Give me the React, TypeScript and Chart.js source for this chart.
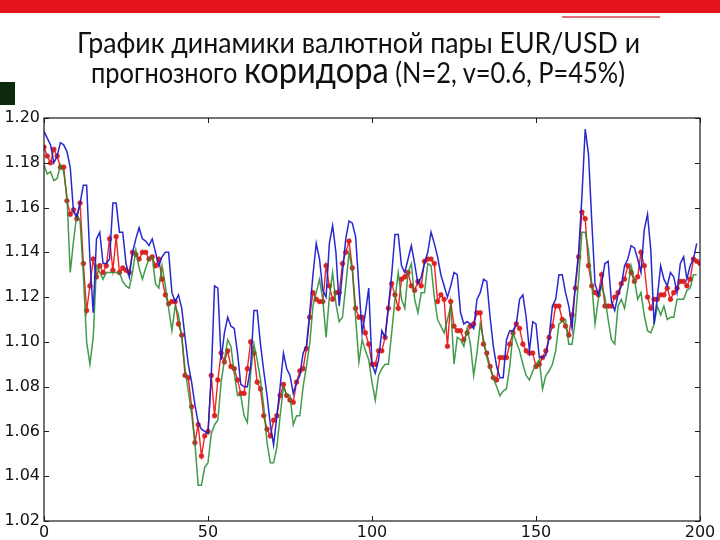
import React, { useEffect, useRef } from "react";
import { Chart, registerables } from "chart.js";

Chart.register(...registerables);

// Actual EUR/USD series (x = index 0..200)
const priceSeries = [
  1.187, 1.183, 1.180, 1.186, 1.183, 1.178, 1.178, 1.163, 1.157, 1.159,
  1.155, 1.162, 1.135, 1.114, 1.125, 1.137, 1.129, 1.134, 1.131, 1.134,
  1.146, 1.132, 1.147, 1.131, 1.133, 1.132, 1.131, 1.140, 1.139, 1.137,
  1.140, 1.140, 1.137, 1.138, 1.134, 1.137, 1.128, 1.121, 1.117, 1.118,
  1.118, 1.108, 1.103, 1.085, 1.084, 1.071, 1.055, 1.063, 1.049, 1.058,
  1.060, 1.085, 1.067, 1.083, 1.095, 1.091, 1.096, 1.089, 1.088, 1.083,
  1.077, 1.077, 1.088, 1.100, 1.095, 1.082, 1.079, 1.067, 1.061, 1.058,
  1.065, 1.067, 1.076, 1.081, 1.076, 1.074, 1.073, 1.082, 1.087, 1.088,
  1.097, 1.111, 1.122, 1.119, 1.118, 1.118, 1.134, 1.125, 1.119, 1.122,
  1.122, 1.135, 1.140, 1.145, 1.133, 1.115, 1.111, 1.111, 1.104, 1.099,
  1.090, 1.090, 1.096, 1.096, 1.102, 1.115, 1.126, 1.121, 1.115, 1.128,
  1.129, 1.131, 1.125, 1.123, 1.127, 1.125, 1.136, 1.137, 1.137, 1.135,
  1.118, 1.121, 1.119, 1.098, 1.118, 1.107, 1.105, 1.105, 1.101, 1.104,
  1.107, 1.108, 1.113, 1.113, 1.099, 1.095, 1.089, 1.084, 1.083, 1.093,
  1.093, 1.093, 1.099, 1.104, 1.108, 1.106, 1.099, 1.096, 1.095, 1.095,
  1.089, 1.090, 1.093, 1.096, 1.102, 1.107, 1.116, 1.116, 1.110, 1.107,
  1.103, 1.112, 1.124, 1.138, 1.158, 1.155, 1.134, 1.125, 1.122, 1.121,
  1.130, 1.116, 1.116, 1.116, 1.120, 1.122, 1.126, 1.128, 1.134, 1.131,
  1.127, 1.129, 1.140, 1.134, 1.120, 1.115, 1.119, 1.119, 1.121, 1.121,
  1.124, 1.119, 1.122, 1.124, 1.127, 1.127, 1.125, 1.128, 1.137, 1.136,
  1.135,
];

// Upper bound of the forecast corridor (x = index 0..199)
const upperBound = [
  1.194, 1.191, 1.188, 1.180, 1.183, 1.189, 1.188, 1.185, 1.178, 1.158,
  1.156, 1.162, 1.170, 1.170, 1.137, 1.113, 1.146, 1.149, 1.135, 1.135,
  1.137, 1.162, 1.162, 1.149, 1.149, 1.135, 1.129, 1.140, 1.146, 1.151,
  1.146, 1.145, 1.143, 1.146, 1.140, 1.134, 1.138, 1.140, 1.140, 1.122,
  1.118, 1.121, 1.115, 1.102, 1.090, 1.082, 1.072, 1.064, 1.061, 1.060,
  1.059, 1.085, 1.125, 1.124, 1.092, 1.104, 1.111, 1.107, 1.106, 1.095,
  1.081, 1.080, 1.080, 1.089, 1.114, 1.114, 1.099, 1.087, 1.076, 1.063,
  1.054, 1.067, 1.080, 1.095, 1.088, 1.085, 1.077, 1.082, 1.085, 1.095,
  1.098, 1.113, 1.130, 1.144, 1.137, 1.123, 1.120, 1.144, 1.152, 1.140,
  1.116, 1.131, 1.146, 1.154, 1.153, 1.147, 1.125, 1.104, 1.113, 1.124,
  1.090, 1.086, 1.092, 1.105, 1.102, 1.116, 1.130, 1.148, 1.148, 1.134,
  1.131, 1.137, 1.143, 1.135, 1.126, 1.129, 1.135, 1.140, 1.149, 1.144,
  1.138, 1.130, 1.125, 1.120, 1.125, 1.131, 1.130, 1.113, 1.108, 1.109,
  1.108, 1.106, 1.119, 1.122, 1.128, 1.127, 1.111, 1.098, 1.089, 1.084,
  1.084, 1.101, 1.105, 1.105, 1.108, 1.119, 1.121, 1.111, 1.096, 1.109,
  1.108, 1.093, 1.093, 1.094, 1.102, 1.116, 1.119, 1.130, 1.130, 1.122,
  1.116, 1.106, 1.126, 1.140, 1.165, 1.195, 1.184, 1.154, 1.126, 1.121,
  1.126, 1.135, 1.136, 1.118, 1.114, 1.121, 1.125, 1.134, 1.137, 1.143,
  1.142, 1.137, 1.131, 1.150, 1.157, 1.141, 1.108, 1.120, 1.134, 1.128,
  1.125, 1.131, 1.129, 1.122, 1.135, 1.138, 1.128, 1.134, 1.137, 1.144,
];

// Lower bound of the forecast corridor (x = index 0..199)
const lowerBound = [
  1.179, 1.175, 1.176, 1.172, 1.173, 1.179, 1.176, 1.165, 1.131, 1.145,
  1.157, 1.154, 1.130, 1.100, 1.090, 1.102, 1.134, 1.131, 1.128, 1.131,
  1.131, 1.131, 1.131, 1.131, 1.127, 1.125, 1.124, 1.131, 1.141, 1.133,
  1.128, 1.133, 1.137, 1.138, 1.126, 1.124, 1.134, 1.125, 1.115, 1.105,
  1.116, 1.112, 1.102, 1.088, 1.078, 1.068, 1.055, 1.036, 1.036, 1.044,
  1.046, 1.059, 1.063, 1.065, 1.082, 1.092, 1.101, 1.098, 1.086, 1.076,
  1.076, 1.067, 1.064, 1.086, 1.099, 1.092, 1.083, 1.071, 1.055, 1.046,
  1.046, 1.053, 1.067, 1.080, 1.076, 1.076, 1.063, 1.067, 1.067, 1.080,
  1.089, 1.099, 1.116, 1.122, 1.128, 1.119, 1.102, 1.120, 1.131, 1.117,
  1.109, 1.111, 1.125, 1.140, 1.132, 1.111, 1.091, 1.101, 1.096, 1.092,
  1.082, 1.074, 1.085, 1.088, 1.090, 1.090, 1.104, 1.119, 1.131, 1.119,
  1.115, 1.131, 1.135, 1.119, 1.113, 1.122, 1.122, 1.135, 1.134, 1.120,
  1.110, 1.107, 1.104, 1.110, 1.116, 1.090, 1.102, 1.101, 1.098, 1.106,
  1.099, 1.085, 1.095, 1.108, 1.101, 1.093, 1.088, 1.084, 1.080, 1.076,
  1.078, 1.079, 1.089, 1.104, 1.100, 1.096, 1.090, 1.085, 1.083, 1.087,
  1.090, 1.092, 1.079, 1.085, 1.087, 1.090, 1.096, 1.108, 1.109, 1.110,
  1.099, 1.099, 1.110, 1.128, 1.149, 1.149, 1.141, 1.126, 1.108, 1.119,
  1.125, 1.120, 1.110, 1.101, 1.099, 1.116, 1.119, 1.115, 1.124, 1.134,
  1.128, 1.119, 1.122, 1.112, 1.105, 1.104, 1.108, 1.116, 1.112, 1.116,
  1.110, 1.111, 1.111, 1.119, 1.119, 1.119, 1.123, 1.124, 1.130, 1.130,
];

const xTicks = [0, 50, 100, 150, 200];
const yTicks = [1.02, 1.04, 1.06, 1.08, 1.1, 1.12, 1.14, 1.16, 1.18, 1.2];

const titleLine1 = "График динамики валютной пары EUR/USD и";
const titleLine2a = "прогнозного ";
const titleLine2b = "коридора";
const titleLine2c = " (N=2, v=0.6, P=45%)";

const toPoints = (arr: number[]) => arr.map((v, i) => ({ x: i, y: v }));

const framePlugin = {
  id: "mplFrame",
  afterDraw(chart: any) {
    const { ctx, chartArea, scales } = chart;
    const { left, right, top, bottom } = chartArea;
    ctx.save();
    ctx.strokeStyle = "#1a1a1a";
    ctx.lineWidth = 1.2;
    ctx.strokeRect(left, top, right - left, bottom - top);
    ctx.lineWidth = 1;
    const len = 5;
    ctx.beginPath();
    xTicks.forEach((t) => {
      const px = Math.round(scales.x.getPixelForValue(t)) + 0.5;
      ctx.moveTo(px, bottom);
      ctx.lineTo(px, bottom - len);
      ctx.moveTo(px, top);
      ctx.lineTo(px, top + len);
    });
    yTicks.forEach((t) => {
      const py = Math.round(scales.y.getPixelForValue(t)) + 0.5;
      ctx.moveTo(left, py);
      ctx.lineTo(left + len, py);
      ctx.moveTo(right, py);
      ctx.lineTo(right - len, py);
    });
    ctx.stroke();
    ctx.restore();
  },
};

export default function App() {
  const canvasRef = useRef<HTMLCanvasElement | null>(null);

  useEffect(() => {
    if (!canvasRef.current) return;
    const chart = new Chart(canvasRef.current, {
      type: "line",
      data: {
        datasets: [
          {
            label: "upper",
            data: toPoints(upperBound),
            borderColor: "rgba(28,28,207,0.95)",
            borderWidth: 1.5,
            pointRadius: 0,
            tension: 0,
            order: 1,
          },
          {
            label: "lower",
            data: toPoints(lowerBound),
            borderColor: "rgba(33,137,42,0.85)",
            borderWidth: 1.5,
            pointRadius: 0,
            tension: 0,
            order: 2,
          },
          {
            label: "price",
            data: toPoints(priceSeries),
            borderColor: "#f02424",
            borderWidth: 1.4,
            pointRadius: 2.4,
            pointBackgroundColor: "#e02222",
            pointBorderColor: "#c81c1c",
            pointBorderWidth: 0.5,
            tension: 0,
            order: 3,
          },
        ],
      },
      options: {
        responsive: false,
        animation: false,
        events: [],
        layout: { padding: { top: 118, right: 20, bottom: 0, left: 0 } },
        plugins: {
          legend: { display: false },
          tooltip: { enabled: false },
          title: { display: false },
        },
        scales: {
          x: {
            type: "linear",
            min: 0,
            max: 200,
            afterBuildTicks: (s: any) => {
              s.ticks = xTicks.map((v) => ({ value: v }));
            },
            afterFit: (s: any) => {
              s.height = 19;
            },
            grid: { display: false, drawTicks: false },
            border: { display: false },
            ticks: {
              padding: 2,
              color: "#111",
              font: { family: "'DejaVu Sans', sans-serif", size: 16 },
              callback: (v: any) => String(v),
              maxRotation: 0,
            },
          },
          y: {
            type: "linear",
            min: 1.02,
            max: 1.2,
            afterBuildTicks: (s: any) => {
              s.ticks = yTicks.map((v) => ({ value: v }));
            },
            afterFit: (s: any) => {
              s.width = 44;
            },
            grid: { display: false, drawTicks: false },
            border: { display: false },
            ticks: {
              padding: 4,
              color: "#111",
              font: { family: "'DejaVu Sans', sans-serif", size: 16 },
              callback: (v: any) => Number(v).toFixed(2),
            },
          },
        },
      },
      plugins: [framePlugin],
    } as any);
    return () => chart.destroy();
  }, []);

  return (
    <div
      style={{
        position: "fixed",
        left: 0,
        top: 0,
        width: 720,
        height: 540,
        background: "#fff",
        overflow: "hidden",
      }}
    >
      <div style={{ position: "absolute", left: 0, top: 0, width: 720, height: 13, background: "#e3141b" }} />
      <div style={{ position: "absolute", left: 562, top: 16, width: 98, height: 2, background: "#e6707a" }} />
      <div style={{ position: "absolute", left: 0, top: 82, width: 15, height: 23, background: "#0d2a0d" }} />
      <canvas
        ref={canvasRef}
        width={720}
        height={540}
        style={{ position: "absolute", left: 0, top: 0, width: 720, height: 540 }}
      />
      <svg
        width={720}
        height={110}
        style={{ position: "absolute", left: 0, top: 0 }}
      >
        <text
          x={77}
          y={53}
          textLength={563}
          lengthAdjust="spacingAndGlyphs"
          fontFamily="Lato, 'Open Sans', sans-serif"
          fontSize={28}
          fill="#111"
        >
          {titleLine1}
        </text>
        <text
          x={91}
          y={83}
          textLength={534}
          lengthAdjust="spacingAndGlyphs"
          fontFamily="Lato, 'Open Sans', sans-serif"
          fontSize={28}
          fill="#111"
        >
          <tspan>{titleLine2a}</tspan>
          <tspan fontSize={36}>{titleLine2b}</tspan>
          <tspan>{titleLine2c}</tspan>
        </text>
      </svg>
    </div>
  );
}
